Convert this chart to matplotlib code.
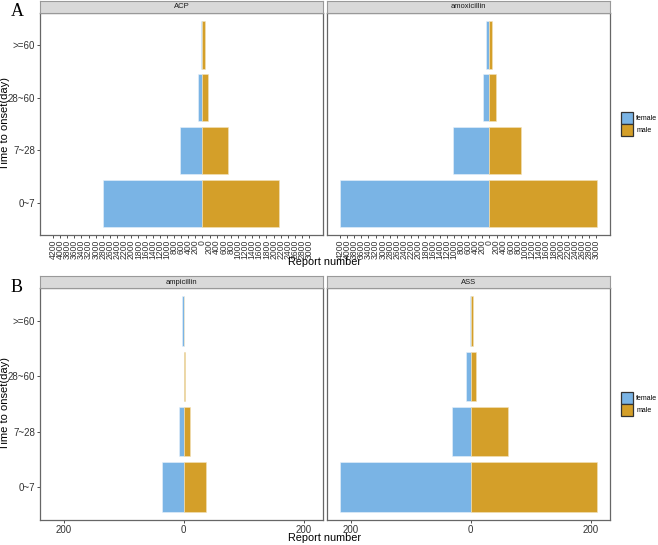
import numpy as np
import matplotlib.pyplot as plt
from matplotlib.patches import Patch
from matplotlib.ticker import FixedLocator, FuncFormatter

plt.rcParams['font.family'] = ['Liberation Sans', 'DejaVu Sans']

# categories (bottom to top)
onset = ['0~7', '7~28', '28~60', '>=60']

drugs_a = ['ACP', 'amoxicillin']
female_a = {'ACP': [2800, 635, 130, 47], 'amoxicillin': [4205, 1028, 187, 103]}
male_a = {'ACP': [2150, 730, 150, 75], 'amoxicillin': [3028, 878, 187, 65]}

drugs_b = ['ampicillin', 'ASS']
female_b = {'ampicillin': [36, 7, 0, 2], 'ASS': [218, 31, 7, 1]}
male_b = {'ampicillin': [37, 11, 3, 0], 'ASS': [211, 62, 9, 4]}

col_female = '#7AB4E5'
col_male = '#D49F29'

W, H = 658, 545
fig = plt.figure(figsize=(W / 100, H / 100), dpi=100)


def box(x0, y0, x1, y1):
    # pixel box (top-left origin) -> figure fraction
    return [x0 / W, 1 - y1 / H, (x1 - x0) / W, (y1 - y0) / H]


def abs_fmt(v, pos):
    return f"{abs(v):.0f}"


def draw_row(drugs, female, male, top, bottom, step, rot, tick_fs, letter, xlab_y):
    lo = -max(max(female[d]) for d in drugs)
    hi = max(max(male[d]) for d in drugs)
    pad = 0.05 * (hi - lo)
    ticks = np.arange(round(lo / step) * step, round(hi / step) * step + 1, step)
    xs = [(40, 323), (327, 610)]
    axes = []
    for i, d in enumerate(drugs):
        x0, x1 = xs[i]
        ax = fig.add_axes(box(x0, top + 12, x1, bottom))
        ax.barh(range(len(onset)), [-v for v in female[d]], height=0.9,
                color=col_female, edgecolor='#E8F1FA', linewidth=0.4, label='female')
        ax.barh(range(len(onset)), male[d], height=0.9,
                color=col_male, edgecolor='#F2E2BC', linewidth=0.4, label='male')
        ax.set_xlim(lo - pad, hi + pad)
        ax.set_ylim(-0.6, len(onset) - 0.4)
        ax.xaxis.set_major_locator(FixedLocator(ticks))
        ax.xaxis.set_major_formatter(FuncFormatter(abs_fmt))
        ax.tick_params(axis='x', labelsize=tick_fs, rotation=rot, length=2.5,
                       width=0.6, pad=1, colors='#333333')
        ax.tick_params(axis='y', length=2.5, width=0.6, pad=1, labelsize=7,
                       colors='#333333')
        if i == 0:
            ax.set_yticks(range(len(onset)))
            ax.set_yticklabels(onset)
        else:
            ax.set_yticks([])
        for s in ax.spines.values():
            s.set_color('#666666')
            s.set_linewidth(0.9)
        # facet strip
        st = fig.add_axes(box(x0, top, x1, top + 12))
        st.set_facecolor('#D9D9D9')
        st.set_xticks([])
        st.set_yticks([])
        for s in st.spines.values():
            s.set_color('#999999')
            s.set_linewidth(0.8)
        st.text(0.5, 0.5, d, ha='center', va='center', fontsize=5.5, color='#1A1A1A')
        axes.append(ax)

    mid = (top + 12 + bottom) / 2
    fig.text(5.5 / W, 1 - mid / H, 'Time to onset(day)', rotation=90,
             ha='center', va='center', fontsize=8)
    fig.text(325 / W, 1 - xlab_y / H, 'Report number',
             ha='center', va='center', fontsize=7.8)
    fig.text(17 / W, 1 - (top + 11) / H, letter, ha='center', va='center',
             fontsize=13, family='Liberation Serif')
    handles = [Patch(facecolor=col_female, edgecolor='#333333', linewidth=0.9, label='female'),
               Patch(facecolor=col_male, edgecolor='#333333', linewidth=0.9, label='male')]
    fig.legend(handles=handles, loc='center left',
               bbox_to_anchor=(621 / W, 1 - mid / H), frameon=False,
               fontsize=5, handlelength=1.7, handleheight=2.2,
               handletextpad=0.5, labelspacing=0.0, borderpad=0, borderaxespad=0)
    return axes


draw_row(drugs_a, female_a, male_a, 1, 235, 200, 90, 6.2, 'A', 262)
draw_row(drugs_b, female_b, male_b, 276, 520, 200, 0, 7, 'B', 538)

fig.savefig('out.png', dpi=100)
